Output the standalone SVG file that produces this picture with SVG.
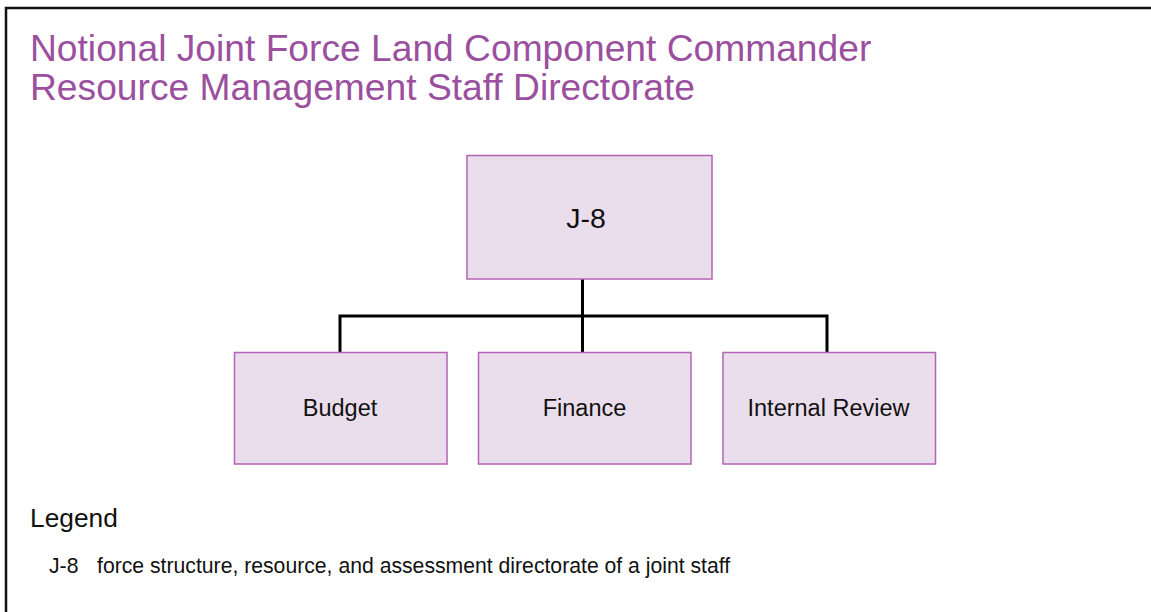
<svg xmlns="http://www.w3.org/2000/svg" width="1151" height="612" viewBox="0 0 1151 612">
<style>
.t{font-family:"Liberation Sans",Arial,sans-serif;}
.title{fill:#9B4F9F;font-size:37.2px;}
.box{fill:#EADDEC;stroke:#B463B6;stroke-width:1.5;}
.lbl{fill:#111;font-size:23.5px;text-anchor:middle;}
.conn{fill:none;stroke:#000;stroke-width:3;}
.leg{fill:#111;font-size:21.2px;}
</style>
<rect x="0" y="0" width="1151" height="612" fill="#fff"/>
<path d="M6 612 V8 H1151" fill="none" stroke="#111" stroke-width="2.5"/>
<text class="t title" x="30" y="61">Notional Joint Force Land Component Commander</text>
<text class="t title" x="30" y="100">Resource Management Staff Directorate</text>
<g id="connectors">
<path class="conn" d="M582.5 279 V316"/>
<path class="conn" d="M340 352 V316 H827 V352"/>
<path class="conn" d="M582.5 316 V352"/>
</g>
<g id="j8">
<rect class="box" x="467" y="155.5" width="245" height="123.5"/>
<text class="t lbl" x="586" y="228" style="font-size:28.5px">J-8</text>
</g>
<g id="budget">
<rect class="box" x="234.5" y="352.5" width="212.5" height="111.5"/>
<text class="t lbl" x="340" y="416">Budget</text>
</g>
<g id="finance">
<rect class="box" x="478.5" y="352.5" width="212.5" height="111.5"/>
<text class="t lbl" x="584.5" y="416">Finance</text>
</g>
<g id="internal-review">
<rect class="box" x="723" y="352.5" width="212.5" height="111.5"/>
<text class="t lbl" x="828.5" y="416">Internal Review</text>
</g>
<g id="legend">
<text class="t" x="30" y="527" font-size="26.3" fill="#111">Legend</text>
<text class="t leg" x="49" y="573">J-8</text>
<text class="t leg" x="97" y="573">force structure, resource, and assessment directorate of a joint staff</text>
</g>
</svg>
